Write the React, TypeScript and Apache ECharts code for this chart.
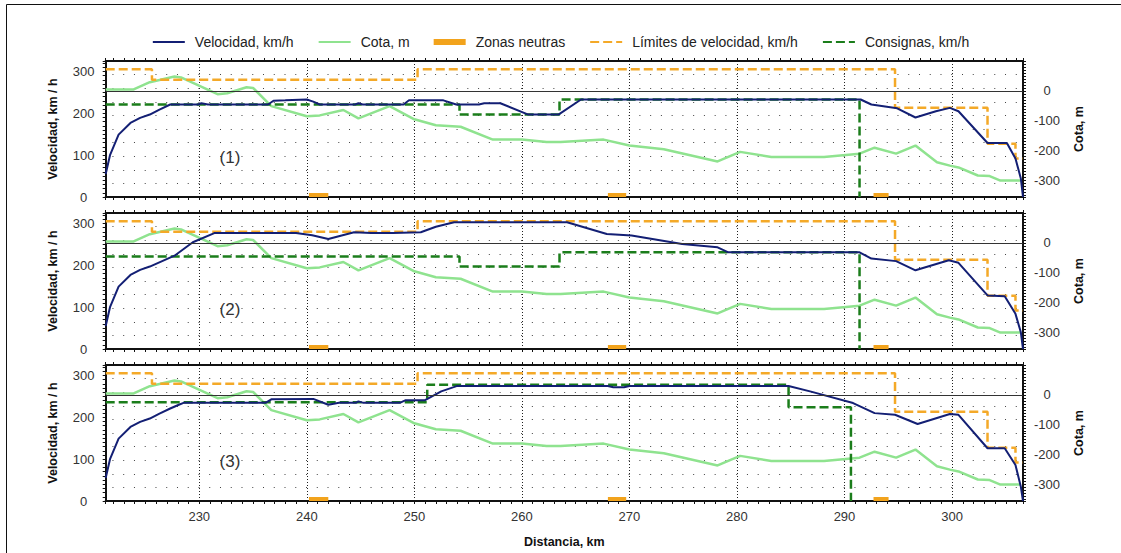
import { useEffect, useRef } from "react";
import * as echarts from "echarts";

const FONT = "'Liberation Sans', Arial, sans-serif";

// ---- Data (km, value) ----
const kmRange: [number, number] = [221.3, 306.6];
const velRange: [number, number] = [0, 325];
const cotaRange: [number, number] = [-355, 100];

const cota: [number, number][] = [
  [221.3, 5], [223.9, 5], [225.4, 29], [227.7, 48], [228.3, 45], [231.7, -11], [232.6, -8],
  [234.4, 12], [235.0, 10], [236.7, -51], [240.0, -85], [241.2, -82], [243.4, -64], [244.8, -92],
  [247.7, -51], [250.0, -95], [252.0, -115], [254.3, -120], [257.3, -163], [260.0, -163],
  [262.3, -171], [263.6, -171], [267.6, -163], [270.0, -183], [273.2, -195], [278.2, -236],
  [280.3, -204], [283.2, -221], [288.1, -221], [291.4, -210], [292.8, -190], [294.8, -210],
  [296.6, -183], [298.6, -239], [299.8, -250], [300.6, -256], [302.4, -283], [303.5, -285],
  [304.5, -300], [306.4, -300],
];

const limites: [number, number][] = [
  [221.3, 305], [225.6, 305], [225.6, 280], [250.3, 280], [250.3, 305], [294.7, 305],
  [294.7, 213], [303.3, 213], [303.3, 127], [305.9, 127], [305.9, 92], [306.6, 92],
];

const velocidad1: [number, number][] = [
  [221.3, 55], [221.7, 100], [222.5, 149], [223.6, 177], [224.5, 189], [225.4, 197],
  [226.3, 209], [227.3, 221], [229.9, 221], [230.2, 224], [230.8, 221], [236.4, 221],
  [236.9, 230], [238.0, 231], [240.0, 233], [240.6, 228], [241.2, 221], [244.5, 221],
  [244.8, 224], [245.2, 221], [249.0, 221], [249.5, 231], [252.7, 231], [253.9, 221],
  [256.0, 221], [256.5, 224], [258.0, 224], [260.6, 197], [263.4, 197], [265.5, 233],
  [291.5, 233], [292.5, 221], [294.9, 212], [296.6, 190], [298.5, 205], [299.8, 213],
  [300.6, 205], [303.3, 129], [305.1, 129], [305.9, 92], [306.4, 44], [306.6, 0],
];
const velocidad2: [number, number][] = [
  [221.3, 55], [221.7, 100], [222.5, 149], [223.6, 177], [224.5, 189], [225.4, 197],
  [227.7, 223], [229.4, 255], [231.4, 277], [239.0, 277], [240.5, 272], [242.0, 263],
  [244.4, 279], [246.0, 277], [248.0, 277], [250.6, 279], [252.0, 292], [253.7, 303],
  [264.2, 303], [267.9, 275], [270.2, 271], [274.9, 251], [278.2, 243], [279.2, 231],
  [291.4, 231], [292.5, 216], [294.8, 210], [296.6, 188], [299.7, 212], [300.6, 206],
  [303.3, 128], [304.9, 126], [305.9, 84], [306.4, 40], [306.6, 0],
];
const velocidad3: [number, number][] = [
  [221.3, 55], [221.7, 100], [222.5, 149], [223.6, 177], [224.5, 189], [225.4, 197],
  [226.3, 209], [227.3, 221], [228.1, 230], [228.6, 235], [236.2, 235], [236.7, 243],
  [240.6, 244], [242.0, 230], [243.0, 235], [244.6, 235], [244.8, 238], [245.2, 235],
  [248.7, 235], [249.2, 241], [251.0, 241], [252.5, 262], [254.0, 275], [268.0, 275],
  [268.5, 272], [269.5, 272], [270.0, 275], [284.8, 275], [286.8, 262], [290.8, 234],
  [292.8, 210], [294.7, 206], [296.8, 184], [299.8, 208], [300.6, 206], [303.3, 126],
  [304.9, 126], [305.9, 86], [306.4, 34], [306.6, 0],
];

const consignas1: [number, number][] = [
  [221.3, 221], [254.2, 221], [254.2, 197], [263.5, 197], [263.5, 233], [291.4, 233], [291.4, 0],
];
const consignas2: [number, number][] = [
  [221.3, 221], [254.2, 221], [254.2, 197], [263.5, 197], [263.5, 231], [291.4, 231], [291.4, 0],
];
const consignas3: [number, number][] = [
  [221.3, 236], [251.2, 236], [251.2, 278], [284.8, 278], [284.8, 224], [290.6, 224], [290.6, 0],
];

const zonasNeutras: [number, number][] = [
  [240.2, 242.0], [268.0, 269.7], [292.7, 294.1],
];
const zonaNivel = 5;

const panelLabels = ["(1)", "(2)", "(3)"];
const velocidades = [velocidad1, velocidad2, velocidad3];
const consignas = [consignas1, consignas2, consignas3];

const NAMES = {
  vel: "Velocidad, km/h",
  cota: "Cota, m",
  zonas: "Zonas neutras",
  lim: "Límites de velocidad, km/h",
  cons: "Consignas, km/h",
};

const COLORS = {
  vel: "#131f74",
  cota: "#8fe38f",
  zonas: "#f2a31c",
  lim: "#f4a928",
  cons: "#1b7d1b",
};

export default function App() {
  const ref = useRef<HTMLDivElement>(null);

  useEffect(() => {
    if (!ref.current) return;
    const chart = echarts.init(ref.current, undefined, { renderer: "svg" });

    const gridLeft = 105.7;
    const gridWidth = 917.3;
    const tops = [61, 213, 365];
    const gridHeight = 136;
    const pxPerKm = gridWidth / (kmRange[1] - kmRange[0]);
    const period = pxPerKm;
    const firstCol = (Math.ceil(kmRange[0]) - kmRange[0]) * pxPerKm;
    const dashOffset = period - firstCol + 0.5;

    const grid: any[] = [];
    const xAxis: any[] = [];
    const yAxis: any[] = [];
    const series: any[] = [];
    const graphic: any[] = [];

    const axisLine = { show: true, onZero: false, lineStyle: { color: "#111", width: 2 } };
    const tick = { show: true, length: 3, lineStyle: { color: "#111", width: 1 } };
    const minorTick = { show: true, splitNumber: 10, length: 3, lineStyle: { color: "#111", width: 1 } };
    const labelStyle = { color: "#333", fontSize: 13, fontFamily: FONT };
    const nameStyle = { color: "#111", fontSize: 12.5, fontWeight: "bold", fontFamily: FONT };

    tops.forEach((top, i) => {
      grid.push({ left: gridLeft, width: gridWidth, top, height: gridHeight, containLabel: false });
      const isLast = i === tops.length - 1;
      xAxis.push({
        type: "value",
        gridIndex: i,
        position: "bottom",
        min: kmRange[0],
        max: kmRange[1],
        splitNumber: 8,
        minInterval: 10,
        maxInterval: 10,
        axisLine,
        axisTick: tick,
        minorTick,
        axisLabel: {
          show: isLast,
          ...labelStyle,
          margin: 9,
          showMinLabel: false,
          showMaxLabel: false,
        },
        splitLine: { show: true, lineStyle: { color: "#222", width: 1, type: [1, 2] } },
        name: isLast ? "Distancia, km" : "",
        nameLocation: "middle",
        nameGap: 34,
        nameTextStyle: nameStyle,
      });
      xAxis.push({
        type: "value",
        gridIndex: i,
        position: "top",
        min: kmRange[0],
        max: kmRange[1],
        splitNumber: 8,
        minInterval: 10,
        maxInterval: 10,
        axisLine,
        axisTick: tick,
        minorTick,
        axisLabel: { show: false },
        splitLine: { show: false },
      });
      yAxis.push({
        type: "value",
        gridIndex: i,
        position: "left",
        min: velRange[0],
        max: velRange[1],
        splitNumber: 4,
        minInterval: 100,
        maxInterval: 100,
        axisLine,
        axisTick: tick,
        minorTick,
        axisLabel: { ...labelStyle, align: "center", margin: 22, showMaxLabel: false },
        splitLine: { show: false },
        name: "Velocidad, km / h",
        nameLocation: "middle",
        nameGap: 46,
        nameTextStyle: nameStyle,
      });
      yAxis.push({
        type: "value",
        gridIndex: i,
        position: "right",
        min: cotaRange[0],
        max: cotaRange[1],
        splitNumber: 5,
        minInterval: 100,
        maxInterval: 100,
        axisLine,
        axisTick: tick,
        minorTick,
        axisLabel: {
          ...labelStyle,
          align: "center",
          margin: 24,
          showMinLabel: false,
          showMaxLabel: false,
        },
        splitLine: { show: false },
        name: "Cota, m",
        nameLocation: "middle",
        nameGap: 49,
        nameTextStyle: nameStyle,
      });
      yAxis.push({
        type: "value",
        gridIndex: i,
        position: "left",
        min: 0,
        max: 10,
        interval: 1,
        axisLine: { show: false },
        axisTick: { show: false },
        axisLabel: { show: false },
        splitLine: {
          show: true,
          lineStyle: { color: "#444", width: 1, type: [1, period - 1], dashOffset },
        },
      });

      const xi = i * 2;
      const yv = i * 3;
      const yc = i * 3 + 1;

      series.push({
        name: NAMES.cota,
        type: "line",
        xAxisIndex: xi,
        yAxisIndex: yc,
        data: cota,
        symbol: "none",
        color: COLORS.cota,
        lineStyle: { color: COLORS.cota, width: 2.5 },
        markLine: {
          silent: true,
          symbol: ["none", "none"],
          label: { show: false },
          lineStyle: { color: "#333", width: 1, type: "solid" },
          data: [{ yAxis: 0 }],
        },
        z: 2,
      });
      series.push({
        name: NAMES.lim,
        type: "line",
        xAxisIndex: xi,
        yAxisIndex: yv,
        data: limites,
        symbol: "none",
        color: COLORS.lim,
        lineStyle: { color: COLORS.lim, width: 2.5, type: [9, 4] },
        z: 3,
      });
      series.push({
        name: NAMES.cons,
        type: "line",
        xAxisIndex: xi,
        yAxisIndex: yv,
        data: consignas[i],
        symbol: "none",
        color: COLORS.cons,
        lineStyle: { color: COLORS.cons, width: 2.5, type: [9, 4] },
        z: 3,
      });
      series.push({
        name: NAMES.zonas,
        type: "line",
        xAxisIndex: xi,
        yAxisIndex: yv,
        data: zonasNeutras.flatMap(([a, b]) => [[a, zonaNivel], [b, zonaNivel], [b, "-"]]),
        symbol: "none",
        color: COLORS.zonas,
        itemStyle: { color: COLORS.zonas },
        lineStyle: { color: COLORS.zonas, width: 4 },
        z: 3,
      });
      series.push({
        name: NAMES.vel,
        type: "line",
        xAxisIndex: xi,
        yAxisIndex: yv,
        data: velocidades[i],
        symbol: "none",
        color: COLORS.vel,
        lineStyle: { color: COLORS.vel, width: 2 },
        z: 4,
      });

      graphic.push({
        type: "text",
        x: 230,
        y: top + 96.5,
        style: {
          text: panelLabels[i],
          fill: "#333",
          font: `17px ${FONT}`,
          align: "center",
          verticalAlign: "middle",
        },
      });
    });

    graphic.push({
      type: "rect",
      shape: { x: 6.5, y: 4.5, width: 1300, height: 700 },
      style: { fill: "none", stroke: "#111", lineWidth: 1 },
      silent: true,
    });

    chart.setOption({
      animation: false,
      backgroundColor: "#fff",
      textStyle: { fontFamily: FONT },
      legend: {
        top: 30,
        left: "center",
        itemWidth: 32,
        itemHeight: 6,
        itemGap: 24,
        itemStyle: { opacity: 0 },
        textStyle: { fontSize: 14, color: "#222", fontFamily: FONT, padding: [0, 0, 0, 5] },
        data: [
          { name: NAMES.vel },
          { name: NAMES.cota },
          { name: NAMES.zonas, icon: "rect", itemStyle: { opacity: 1, color: COLORS.zonas } },
          { name: NAMES.lim },
          { name: NAMES.cons },
        ],
      },
      grid,
      xAxis,
      yAxis,
      series,
      graphic,
    });

    return () => chart.dispose();
  }, []);

  return (
    <div
      ref={ref}
      style={{ position: "fixed", left: 0, top: 0, width: 1121, height: 553, background: "#fff" }}
    />
  );
}
